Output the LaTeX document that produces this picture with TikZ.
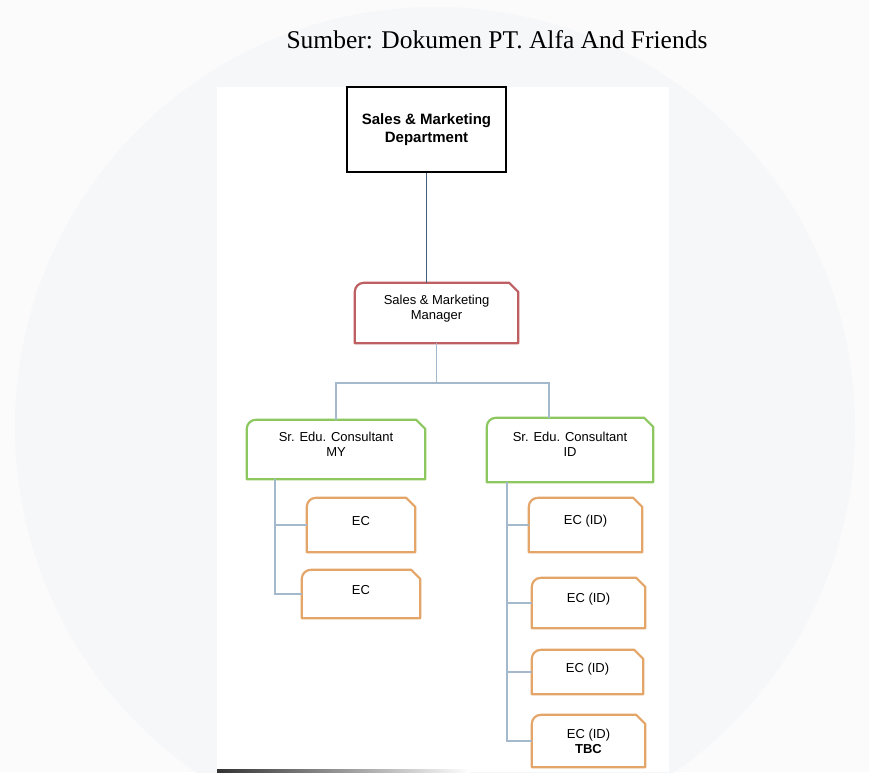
\documentclass[tikz,border=0pt]{standalone}
\usepackage{fontspec}
\setmainfont{Liberation Serif}
\newfontfamily\boxfont{Liberation Sans}
\usepackage{tikz}
\usetikzlibrary{calc}

\definecolor{pagebg}{RGB}{251,251,252}
\definecolor{wmark}{RGB}{246,247,249}
\definecolor{mgrred}{RGB}{190,95,98}
\definecolor{secgreen}{RGB}{140,200,95}
\definecolor{ecorange}{RGB}{228,165,105}
\definecolor{linkdark}{RGB}{70,95,125}
\definecolor{linklight}{RGB}{165,185,205}

% outline with rounded top-left and cut top-right corner
\newcommand{\tagshape}[2]{%
  \draw[#2, line width=2.2pt, line join=round]
    (#1.south west) -- ([yshift=-9pt]#1.north west)
    arc[start angle=180, end angle=90, radius=9pt]
    -- ([xshift=-9pt]#1.north east) -- ([yshift=-9pt]#1.north east)
    -- (#1.south east) -- cycle;}

\begin{document}
\begin{tikzpicture}[x=1pt, y=-1pt,
    box/.style={inner sep=0pt, align=center, font=\boxfont\fontsize{13}{15}\selectfont},
    head/.style={box, draw, line width=2pt, font=\boxfont\bfseries\fontsize{15}{18}\selectfont},
    link/.style={draw=linklight, line width=1.6pt}]

    % page, watermark and scanned sheet
    \useasboundingbox (0,0) rectangle (869,772);
    \fill[pagebg] (0,0) rectangle (869,772);
    \fill[wmark] (435,427) circle[radius=420pt];
    \fill[white] (217,87) rectangle (669,772);
    \fill[left color=black!80, right color=white] (217,769) rectangle (470,772);

    \node[font=\fontsize{25.5}{30}\selectfont] (src) at (497,40) {Sumber: Dokumen PT. Alfa And Friends};

    \node[head, minimum width=159pt, minimum height=85pt] (dept) at (426.5,129.5) {Sales \& Marketing\\Department};
    \node[box, minimum width=163pt, minimum height=60pt, text depth=12pt] (mgr) at (436.5,313) {Sales \& Marketing\\Manager};
    \node[box, minimum width=178pt, minimum height=59pt, text depth=10pt] (smy) at (336,449.5) {Sr. Edu. Consultant\\MY};
    \node[box, minimum width=166pt, minimum height=64pt, text depth=12pt] (sid) at (570,450) {Sr. Edu. Consultant\\ID};

    \node[box, minimum width=108pt, minimum height=54pt, text depth=8pt] (ec1) at (361,525) {EC};
    \node[box, minimum width=118pt, minimum height=48pt, text depth=8pt] (ec2) at (361,594) {EC};

    \node[box, minimum width=113pt, minimum height=54pt, text depth=10pt] (eid1) at (585.5,525) {EC (ID)};
    \node[box, minimum width=113pt, minimum height=50pt, text depth=10pt] (eid2) at (588.5,603) {EC (ID)};
    \node[box, minimum width=111pt, minimum height=44pt, text depth=8pt] (eid3) at (587.5,672) {EC (ID)};
    \node[box, minimum width=113pt, minimum height=52pt] (eid4) at (588.5,741) {EC (ID)\\\textbf{TBC}};

    \tagshape{mgr}{mgrred}
    \tagshape{smy}{secgreen}
    \tagshape{sid}{secgreen}
    \tagshape{ec1}{ecorange}
    \tagshape{ec2}{ecorange}
    \foreach \i in {1,...,4}
        \tagshape{eid\i}{ecorange};

    \coordinate (barL) at (337,383);
    \coordinate (barR) at (549,383);
    \coordinate (spL) at (275,0);
    \coordinate (spR) at (507,0);

    \draw[link, draw=linkdark] (dept.south) -- (dept.south |- mgr.north);
    \draw[link] (mgr.south) -- (mgr.south |- barL);
    \draw[link] (smy.north) |- (barR) -- (barR |- sid.north);
    \draw[link] (smy.south -| spL) |- (ec2.west);
    \draw[link] (spL |- ec1.west) -- (ec1.west);
    \draw[link] (sid.south -| spR) |- (eid4.west);
    \foreach \i in {1,2,3}
        \draw[link] (spR |- eid\i.west) -- (eid\i.west);
\end{tikzpicture}
\end{document}
